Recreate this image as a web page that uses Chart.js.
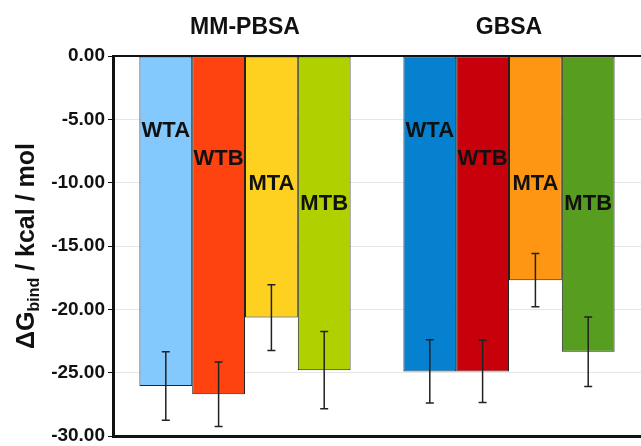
<!DOCTYPE html>
<html lang="en">
<head>
    <meta charset="UTF-8">
    <title>Binding free energy</title>
    <style>
        html, body {
            margin: 0;
            padding: 0;
            background: #fff;
        }
        .wrap {
            width: 641px;
            height: 446px;
        }
    </style>
</head>
<body>
    <div class="wrap">
        <canvas id="chart" width="641" height="446"></canvas>
    </div>

    <script src="https://cdn.jsdelivr.net/npm/chart.js"></script>
    <script>
        // data
        const groups = ['MM-PBSA', 'GBSA'];
        const variants = ['WTA', 'WTB', 'MTA', 'MTB'];
        const wta = [-26.05, -24.9];
        const wtb = [-26.7, -24.9];
        const mta = [-20.65, -17.7];
        const mtb = [-24.8, -23.35];
        const wtaErr = [2.7, 2.5];
        const wtbErr = [2.55, 2.45];
        const mtaErr = [2.6, 2.1];
        const mtbErr = [3.05, 2.75];

        const values = [wta, wtb, mta, mtb];
        const errors = [wtaErr, wtbErr, mtaErr, mtbErr];
        const fills = [
            ['#84c9fe', '#0681d0'],
            ['#fe4210', '#c7000b'],
            ['#fed120', '#fe9613'],
            ['#b1d000', '#579e20']
        ];
        // label centre, px below the top of the plot
        const labelDrop = [75, 103, 128, 148];

        const FONT = '"Liberation Sans", Arial, sans-serif';

        const overlay = {
            id: 'overlay',
            afterDatasetsDraw(chart) {
                const ctx = chart.ctx;
                const y = chart.scales.y;
                const area = chart.chartArea;
                ctx.save();

                // error bars
                ctx.strokeStyle = '#222';
                ctx.lineWidth = 1.5;
                chart.data.datasets.forEach((ds, i) => {
                    chart.getDatasetMeta(i).data.forEach((bar, j) => {
                        const v = ds.data[j], e = ds.err[j];
                        const top = y.getPixelForValue(v + e);
                        const bot = y.getPixelForValue(v - e);
                        ctx.beginPath();
                        ctx.moveTo(bar.x, top); ctx.lineTo(bar.x, bot);
                        ctx.moveTo(bar.x - 4, top); ctx.lineTo(bar.x + 4, top);
                        ctx.moveTo(bar.x - 4, bot); ctx.lineTo(bar.x + 4, bot);
                        ctx.stroke();
                    });
                });

                // bar names
                ctx.fillStyle = '#111';
                ctx.font = 'bold 22px ' + FONT;
                ctx.textAlign = 'center';
                ctx.textBaseline = 'middle';
                chart.data.datasets.forEach((ds, i) => {
                    chart.getDatasetMeta(i).data.forEach(bar => {
                        ctx.fillText(ds.label, bar.x, area.top + labelDrop[i]);
                    });
                });

                // group titles
                ctx.font = 'bold 23px ' + FONT;
                ctx.textBaseline = 'alphabetic';
                const x = chart.scales.x;
                groups.forEach((g, i) => {
                    ctx.fillText(g, x.getPixelForValue(i), 34);
                });

                // y title with subscript
                ctx.translate(34, 246);
                ctx.rotate(-Math.PI / 2);
                const big = 'bold 25px ' + FONT;
                const small = 'bold 16px ' + FONT;
                const parts = [['\u0394G', big, 0], ['bind', small, 5], [' / kcal / mol', big, 0]];
                let total = 0;
                parts.forEach(p => { ctx.font = p[1]; total += ctx.measureText(p[0]).width; });
                let cx = -total / 2;
                ctx.textAlign = 'left';
                parts.forEach(p => {
                    ctx.font = p[1];
                    ctx.fillText(p[0], cx, p[2]);
                    cx += ctx.measureText(p[0]).width;
                });
                ctx.restore();
            }
        };

        new Chart(document.getElementById('chart'), {
            type: 'bar',
            data: {
                labels: groups,
                datasets: variants.map((v, i) => ({
                    label: v,
                    data: values[i],
                    err: errors[i],
                    backgroundColor: fills[i],
                    borderColor: '#222',
                    borderWidth: 1,
                    borderSkipped: false,
                    categoryPercentage: 0.8,
                    barPercentage: 1.0
                }))
            },
            options: {
                responsive: false,
                animation: false,
                layout: { padding: { left: 0, right: -2, top: 0, bottom: 0 } },
                plugins: {
                    legend: { display: false },
                    tooltip: { enabled: false }
                },
                scales: {
                    x: {
                        position: 'top',
                        ticks: { display: false },
                        grid: { drawOnChartArea: false, drawTicks: false },
                        border: { color: '#111', width: 2 },
                        afterFit: s => { s.height = 56; }
                    },
                    xb: {
                        type: 'category',
                        labels: groups,
                        position: 'bottom',
                        ticks: { display: false },
                        grid: { drawOnChartArea: false, drawTicks: false },
                        border: { color: '#111', width: 3 },
                        afterFit: s => { s.height = 10; }
                    },
                    y: {
                        min: -30,
                        max: 0,
                        ticks: {
                            stepSize: 5,
                            color: '#111',
                            padding: 3,
                            font: { family: FONT, size: 19, weight: 'bold' },
                            callback: v => v.toFixed(2)
                        },
                        grid: { color: '#e6e6e6', tickColor: '#111', tickLength: 5, lineWidth: 1 },
                        border: { color: '#111', width: 3 },
                        afterFit: s => {
                            s.width = 113;
                            s.paddingTop = 0;
                            s.paddingBottom = 0;
                        }
                    }
                }
            },
            plugins: [overlay]
        });
    </script>
</body>
</html>
